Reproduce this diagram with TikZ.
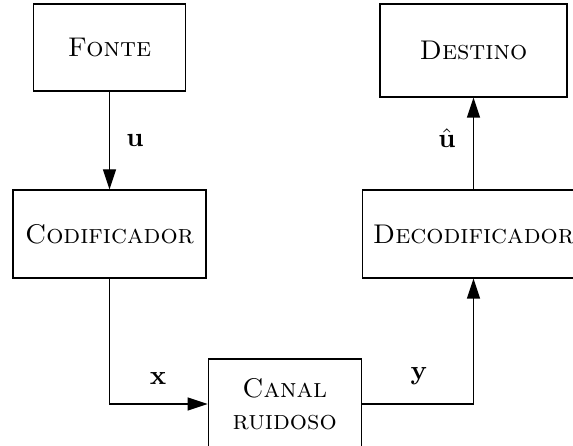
\documentclass[tikz,border=0pt]{standalone}
\usetikzlibrary{arrows.meta}
% one drawing unit is one pixel of a 573 x 446 canvas
\newcommand\px[1]{#1*0.37pt}
\tikzset{
  blockbox/.style={draw, line width=0.45pt, inner sep=0pt, align=center, font=\normalsize},
  flow/.style={line width=0.45pt, -{Triangle[length=7.4pt,width=4.8pt]}},
  sig/.style={inner sep=0pt, anchor=base},
}
\begin{document}
\begin{tikzpicture}[x=0.37pt, y=-0.37pt]
  \useasboundingbox (0,0) rectangle (573,446);
  \clip (0,0) rectangle (573,446);

  \node[blockbox, minimum width=\px{152}, minimum height=\px{87}] (fonte) at (109.5,47.5) {\textsc{Fonte}};
  \node[blockbox, minimum width=\px{187}, minimum height=\px{93}] (destino) at (473.5,50.5) {\textsc{Destino}};
  \node[blockbox, minimum width=\px{193}, minimum height=\px{88}] (cod) at (109.5,234) {\textsc{Codificador}};
  \node[blockbox, minimum width=\px{222}, minimum height=\px{88}] (decod) at (473.5,234) {\textsc{Decodificador}};
  \node[blockbox, minimum width=\px{153}, minimum height=\px{90}] (canal) at (284.7,404) {\textsc{Canal}\\\textsc{ruidoso}};

  \draw[flow] (fonte) -- (cod);
  \draw[flow] (cod.south) |- (canal.west);
  \draw[flow] (canal.east) -| (decod.south);
  \draw[flow] (decod) -- (destino);

  \node[sig] (lu) at (135,147) {$\mathbf{u}$};
  \node[sig] (luhat) at (447,148) {$\hat{\mathbf{u}}$};
  \node[sig] (lx) at (158,385) {$\mathbf{x}$};
  \node[sig] (ly) at (419,380) {$\mathbf{y}$};
\end{tikzpicture}
\end{document}
